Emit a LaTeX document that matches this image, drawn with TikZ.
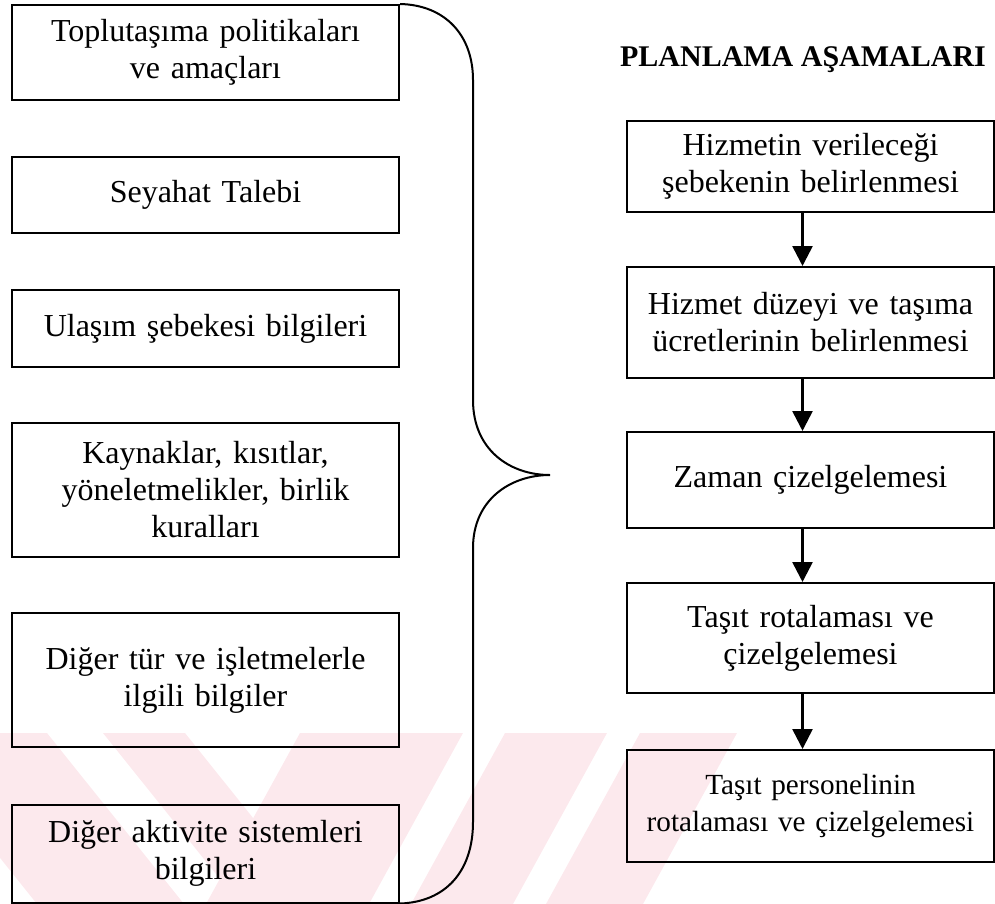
\documentclass[tikz,border=0pt]{standalone}
\usepackage{fontspec}
\setmainfont{Liberation Serif}
\usetikzlibrary{arrows.meta}

\definecolor{wmpink}{RGB}{252,233,237}

% Boxes on the left are the inputs, boxes on the right the stages
\tikzset{
    inbox/.style={draw, line width=1pt, inner sep=0pt,
        minimum width=193.5pt, text width=186pt, align=center},
    stagebox/.style={draw, line width=1pt, inner sep=0pt,
        minimum width=183.5pt, text width=178pt, align=center},
    flow/.style={line width=1.3pt, -{Triangle[width=10pt,length=10pt]}},
    bracepath/.style={line width=1pt}
}

\begin{document}
\begin{tikzpicture}[x=0.5pt, y=0.5pt, font=\fontsize{16}{18.5}\selectfont]
    \useasboundingbox (0,0) rectangle (995,-904);
    % The faint watermark stripes at the bottom of the page.
    % A scope is needed so that the clip only hits the stripes.
    \begin{scope}
        \clip (0,-733) rectangle (995,-904);
        \fill[wmpink] (-100,-733) -- (47,-733) -- (184,-904) -- (37,-904) -- cycle;
        \fill[wmpink] (103,-733) -- (185,-733) -- (322,-904) -- (240,-904) -- cycle;
        \fill[wmpink] (300,-733) -- (463,-733) -- (369,-904) -- (206,-904) -- cycle;
        \fill[wmpink] (505,-733) -- (607,-733) -- (513,-904) -- (411,-904) -- cycle;
        \fill[wmpink] (640,-733) -- (737,-733) -- (643,-904) -- (546,-904) -- cycle;
    \end{scope}

    % Input boxes
    \node[inbox, minimum height=47.5pt] (pol) at (205.5,-52.5) {Toplutaşıma politikaları\\ve amaçları};
    \node[inbox, minimum height=38pt] (dem) at (205.5,-195) {Seyahat Talebi};
    \node[inbox, minimum height=38.5pt] (net) at (205.5,-328.5) {Ulaşım şebekesi bilgileri};
    \node[inbox, minimum height=67pt] (res) at (205.5,-490) {Kaynaklar, kısıtlar,\\yöneletmelikler, birlik\\kuralları};
    \node[inbox, minimum height=67pt] (oth) at (205.5,-680) {Diğer tür ve işletmelerle\\ilgili bilgiler};
    \node[inbox, minimum height=49pt] (act) at (205.5,-853.5) {Diğer aktivite sistemleri\\bilgileri};

    % The brace that gathers all inputs
    \coordinate (tip) at (550,-475);
    \draw[bracepath] (pol.north east) .. controls (445,-5) and (473,-35) .. (473,-80)
        -- (473,-400) .. controls (473,-450) and (510,-475) .. (tip)
        .. controls (510,-475) and (473,-500) .. (473,-548)
        -- (473,-822) .. controls (473,-872) and (445,-902) .. (act.south east);

    % Planning stages
    \node[font=\fontsize{15}{18}\selectfont\bfseries] (title) at (803,-60) {PLANLAMA AŞAMALARI};
    \node[stagebox, minimum height=45.5pt] (net2) at (810.5,-166.5) {Hizmetin verileceği\\şebekenin belirlenmesi};
    \node[stagebox, minimum height=55.5pt] (fare) at (810.5,-322.5) {Hizmet düzeyi ve taşıma\\ücretlerinin belirlenmesi};
    \node[stagebox, minimum height=48pt] (time) at (810.5,-480) {Zaman çizelgelemesi};
    \node[stagebox, minimum height=55pt] (veh) at (810.5,-638) {Taşıt rotalaması ve\\çizelgelemesi};
    \node[stagebox, minimum height=56pt, font=\fontsize{14.6}{18.5}\selectfont] (crew) at (810.5,-806) {Taşıt personelinin\\rotalaması ve çizelgelemesi};

    % Arrows between the stages
    \foreach \a/\b in {net2/fare, fare/time, time/veh, veh/crew}
        \draw[flow] ([xshift=-4pt]\a.south) -- ([xshift=-4pt]\b.north);
\end{tikzpicture}
\end{document}
